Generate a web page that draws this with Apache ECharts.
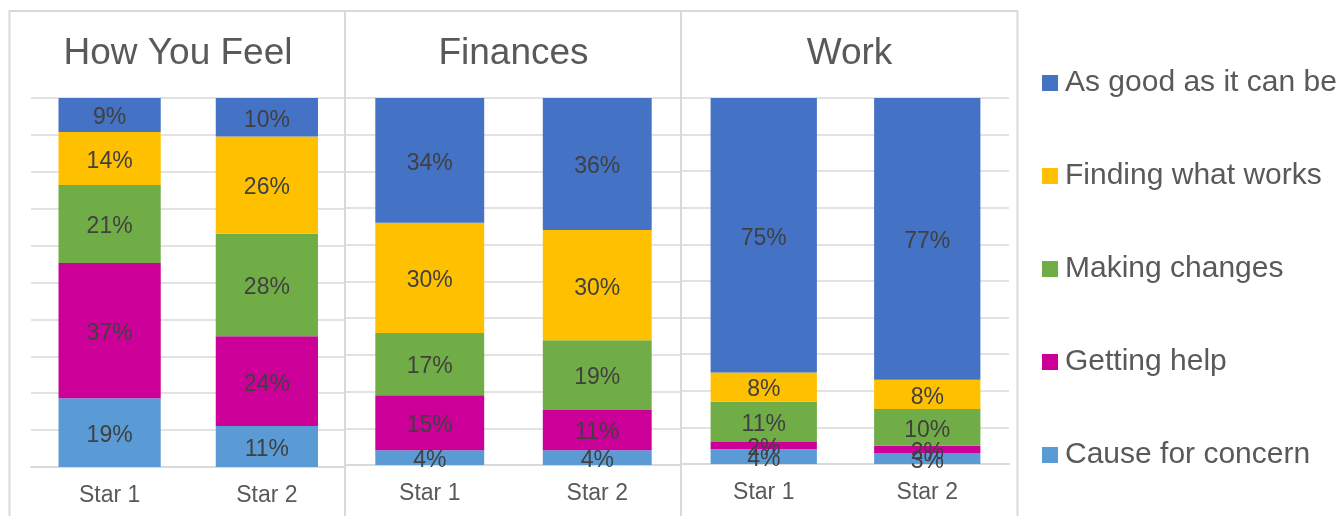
<!DOCTYPE html>
<html>
<head>
<meta charset="utf-8">
<script src="https://cdn.jsdelivr.net/npm/echarts@6/dist/echarts.min.js"></script>
<style>
  html, body { margin: 0; padding: 0; background: #fff; }
  #chart { width: 1340px; height: 516px; }
</style>
</head>
<body>
<div id="chart"></div>
<script>
(function(){
  // data, one row per panel: [Star 1, Star 2]
  var panels = ['How You Feel', 'Finances', 'Work'];
  var categories = ['Star 1', 'Star 2'];
  var names = ['Cause for concern', 'Getting help', 'Making changes', 'Finding what works', 'As good as it can be'];

  var concern     = [[18.6, 11.1], [4, 4], [4, 3]];
  var gettingHelp = [[36.7, 24.3], [15, 11], [2, 2]];
  var changes     = [[21.1, 27.8], [17, 19], [11, 10]];
  var finding     = [[14.4, 26.4], [30, 30], [8, 8]];
  var asGood      = [[9.2, 10.4], [34, 36], [75, 77]];

  var stacks = [concern, gettingHelp, changes, finding, asGood];
  var colors = ['#5B9BD5', '#CC0099', '#70AD47', '#FFC000', '#4472C4'];

  var myChart = echarts.init(document.getElementById('chart'));

  // panel plot areas
  var grids = [
    { left: 31,  width: 314.5, top: 98, height: 369 },
    { left: 346, width: 335,   top: 98, height: 367 },
    { left: 682, width: 327,   top: 98, height: 366 }
  ];
  var titleCenters = [178, 513.5, 849.5];

  var xAxes = [], yAxes = [], series = [], titles = [];
  grids.forEach(function(g, i) {
    titles.push({
      text: panels[i],
      left: titleCenters[i],
      top: 35,
      padding: 0,
      textAlign: 'center',
      textStyle: { fontFamily: 'Liberation Sans', fontSize: 37, fontWeight: 'normal', color: '#595959' }
    });
    xAxes.push({
      type: 'category',
      gridIndex: i,
      data: categories,
      axisTick: { show: false },
      axisLine: { lineStyle: { color: '#d9d9d9', width: 2 } },
      axisLabel: { color: '#595959', fontSize: 23, fontFamily: 'Liberation Sans', margin: 17 }
    });
    yAxes.push({
      type: 'value',
      gridIndex: i,
      min: 0,
      max: 100,
      interval: 10,
      axisLabel: { show: false },
      axisLine: { show: false },
      axisTick: { show: false },
      splitLine: { lineStyle: { color: '#d9d9d9', width: 1.5 } }
    });
    stacks.forEach(function(arr, j) {
      series.push({
        name: names[j],
        type: 'bar',
        stack: 'p' + i,
        xAxisIndex: i,
        yAxisIndex: i,
        barWidth: '65%',
        data: arr[i],
        itemStyle: { color: colors[j] },
        label: {
          show: true,
          position: 'inside',
          offset: [0, 3],
          color: '#404040',
          fontSize: 23,
          fontFamily: 'Liberation Sans',
          formatter: function(p) { return Math.round(p.value) + '%'; }
        }
      });
    });
  });

  var option = {
    animation: false,
    color: colors,
    title: titles,
    grid: grids,
    xAxis: xAxes,
    yAxis: yAxes,
    legend: {
      orient: 'vertical',
      left: 1042,
      top: 68,
      padding: 0,
      icon: 'rect',
      itemWidth: 16,
      itemHeight: 16,
      itemGap: 63,
      selectedMode: false,
      data: names.slice().reverse(),
      textStyle: { fontSize: 30, lineHeight: 30, color: '#595959', fontFamily: 'Liberation Sans', padding: [0, 0, 0, 2] }
    },
    // panel frames
    graphic: [
      { type: 'rect', shape: { x: 9.5, y: 11, width: 1008, height: 600 }, style: { fill: 'none', stroke: '#d9d9d9', lineWidth: 2 }, z: -1 },
      { type: 'line', shape: { x1: 345, y1: 11, x2: 345, y2: 600 }, style: { stroke: '#d9d9d9', lineWidth: 2 }, z: -1 },
      { type: 'line', shape: { x1: 681, y1: 11, x2: 681, y2: 600 }, style: { stroke: '#d9d9d9', lineWidth: 2 }, z: -1 }
    ],
    series: series
  };

  myChart.setOption(option);

  window.addEventListener('resize', function() {
    myChart.resize();
  });
})();
</script>
</body>
</html>
